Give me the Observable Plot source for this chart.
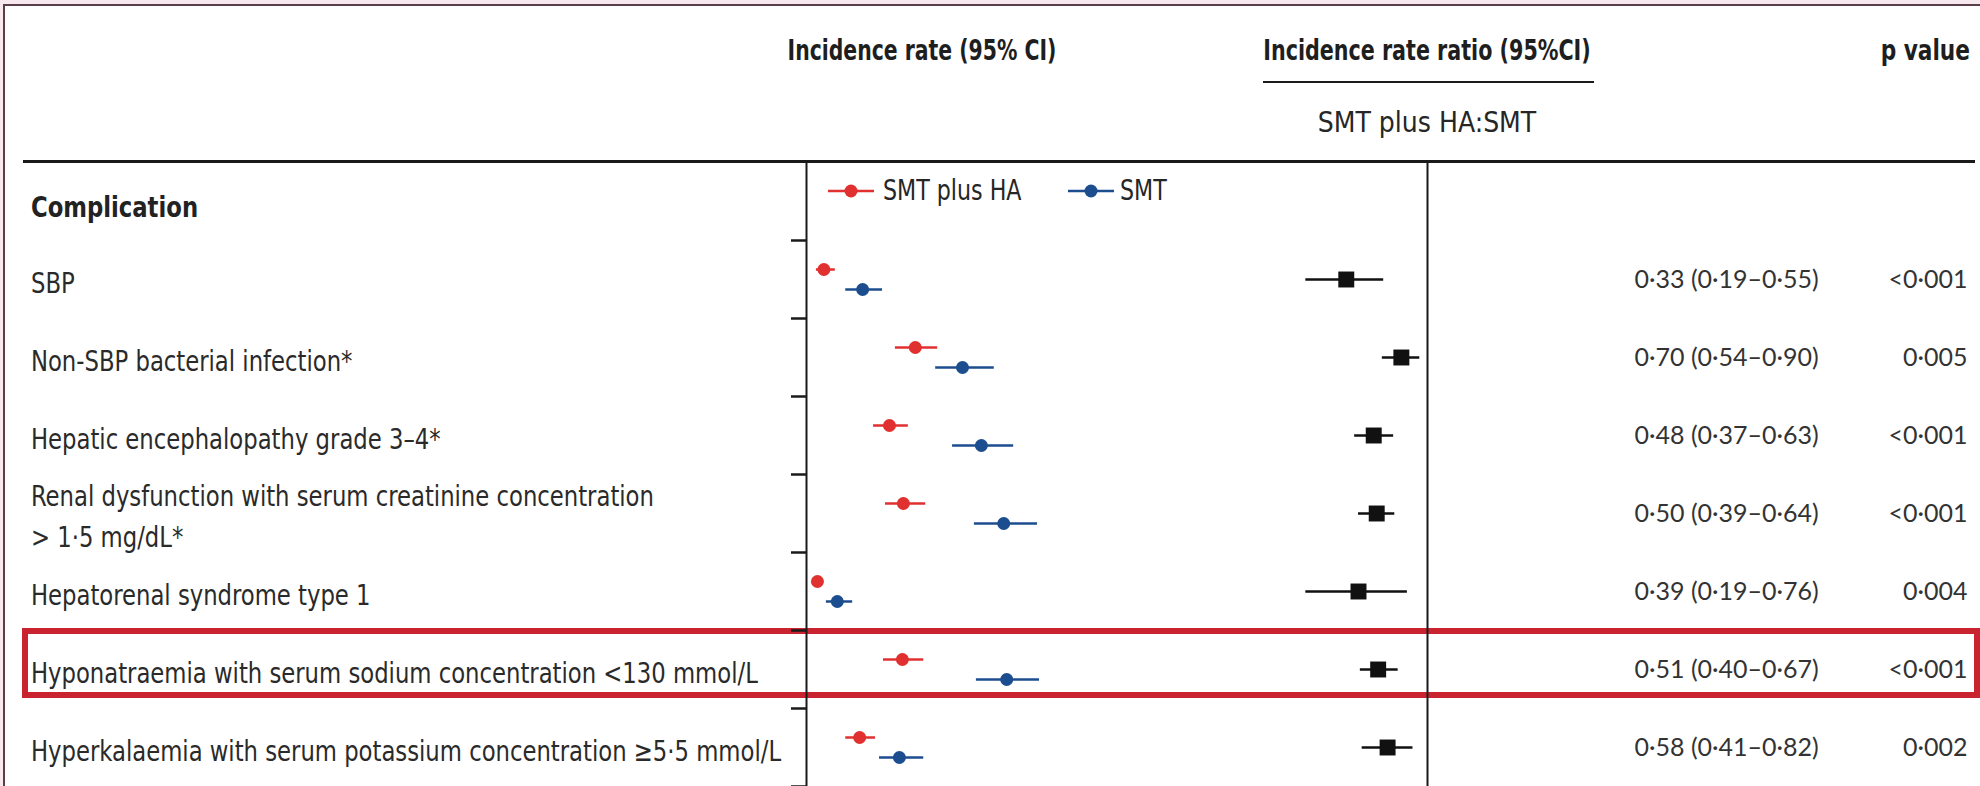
<!DOCTYPE html>
<html>
<head>
<meta charset="utf-8">
<script src="https://cdn.jsdelivr.net/npm/d3@7"></script>
<script src="https://cdn.jsdelivr.net/npm/@observablehq/plot@0.6"></script>
<style>
  html, body { margin: 0; padding: 0; background: #fff; }
  #fig { position: relative; width: 1980px; height: 786px; overflow: hidden; background: #f7e9ee;
         font-family: "DejaVu Sans Condensed", "Liberation Sans Narrow", "DejaVu Sans", sans-serif; color: #262626; }
  #sheet { position: absolute; left: 3px; top: 4px; width: 1990px; height: 800px; background: #fff;
           border-top: 2px solid #5b3d4c; border-left: 2px solid #5b3d4c; }
  .abs { position: absolute; white-space: nowrap; }
  .hdr { font-size: 28px; font-weight: bold; color: #1e1e1e; }
  .plot { position: absolute; top: 162px; }
  .plot svg { overflow: visible; }
</style>
</head>
<body>
<div id="fig"><div id="sheet"></div></div>
<script>
// ---------------- data ----------------
const complications = [
  "SBP",
  "Non-SBP bacterial infection*",
  "Hepatic encephalopathy grade 3–4*",
  "Renal dysfunction with serum creatinine concentration\n> 1·5 mg/dL*",
  "Hepatorenal syndrome type 1",
  "Hyponatraemia with serum sodium concentration <130 mmol/L",
  "Hyperkalaemia with serum potassium concentration ≥5·5 mmol/L"
];
const highlighted = "Hyponatraemia with serum sodium concentration <130 mmol/L";
const seriesNames = ["SMT plus HA", "SMT"];
const seriesColors = ["#e03030", "#1c4d8f"];

// incidence rates (events per patient-year)
const haRate  = [0.035, 0.219, 0.167, 0.195, 0.022, 0.193, 0.107];
const haLow   = [0.020, 0.179, 0.135, 0.159, 0.012, 0.155, 0.079];
const haHigh  = [0.058, 0.264, 0.205, 0.240, 0.034, 0.236, 0.139];
const smtRate = [0.113, 0.314, 0.352, 0.397, 0.062, 0.403, 0.187];
const smtLow  = [0.079, 0.260, 0.294, 0.338, 0.040, 0.342, 0.147];
const smtHigh = [0.153, 0.378, 0.417, 0.465, 0.093, 0.469, 0.236];

// incidence rate ratios
const irr     = [0.33, 0.70, 0.48, 0.50, 0.39, 0.51, 0.58];
const irrLow  = [0.19, 0.54, 0.37, 0.39, 0.19, 0.40, 0.41];
const irrHigh = [0.55, 0.90, 0.63, 0.64, 0.76, 0.67, 0.82];
const irrText = ["0·33 (0·19–0·55)", "0·70 (0·54–0·90)", "0·48 (0·37–0·63)", "0·50 (0·39–0·64)",
                 "0·39 (0·19–0·76)", "0·51 (0·40–0·67)", "0·58 (0·41–0·82)"];
const pText   = ["<0·001", "0·005", "<0·001", "<0·001", "0·004", "<0·001", "0·002"];

const headerLabel = "Complication";
const rateHeader = "Incidence rate (95% CI)";
const ratioHeader = "Incidence rate ratio (95%CI)";
const ratioSub = "SMT plus HA:SMT";
const pHeader = "p value";

// ---------------- derived tables ----------------
const nRows = complications.length + 1;   // header row + complications
const rows = complications.map((label, i) => ({
  label, row: i + 1.5, irr: irr[i], lo: irrLow[i], hi: irrHigh[i], irrText: irrText[i], p: pText[i]
}));
const rates = complications.flatMap((label, i) => [
  {row: i + 1.5, series: seriesNames[0], est: haRate[i], lo: haLow[i], hi: haHigh[i]},
  {row: i + 1.5, series: seriesNames[1], est: smtRate[i], lo: smtLow[i], hi: smtHigh[i]}
]);
const hiIndex = complications.indexOf(highlighted);

const H = 624;
const FONT_NARROW = '"DejaVu Sans Condensed", "Liberation Sans Narrow", "DejaVu Sans", sans-serif';
const FONT_NUM = 'Lato, "Open Sans", sans-serif';
const yScale = {domain: [0, nRows], range: [0, H], axis: null};
const fig = document.getElementById("fig");

function place(node, left, extra) {
  const wrap = document.createElement("div");
  wrap.className = "plot";
  wrap.style.left = left + "px";
  if (extra) Object.assign(wrap.style, extra);
  wrap.appendChild(node);
  fig.appendChild(wrap);
  return wrap;
}
function addText(text, x, y, anchor, cls, extra, sx) {
  const d = document.createElement("div");
  d.className = "abs " + (cls || "");
  d.textContent = text;
  d.style.left = x + "px";
  d.style.top = y + "px";
  const tx = anchor === "middle" ? "-50%" : anchor === "end" ? "-100%" : "0";
  d.style.transformOrigin = anchor === "middle" ? "50% 50%" : anchor === "end" ? "100% 50%" : "0 50%";
  d.style.transform = `translate(${tx}, -50%) scaleX(${sx || 1})`;
  if (extra) Object.assign(d.style, extra);
  fig.appendChild(d);
  return d;
}

// ---------------- header (HTML) ----------------
addText(rateHeader, 922, 50, "middle", "hdr", null, 0.81);
addText(ratioHeader, 1427, 50, "middle", "hdr", null, 0.82);
addText(pHeader, 1970, 50, "end", "hdr", null, 0.86);
addText(ratioSub, 1427, 122, "middle", "", {fontSize: "28px"}, 1);
const ul = document.createElement("div");
ul.className = "abs";
Object.assign(ul.style, {left: "1263px", top: "81px", width: "331px", height: "2px", background: "#1a1a1a"});
fig.appendChild(ul);
const hr = document.createElement("div");
hr.className = "abs";
Object.assign(hr.style, {left: "23px", top: "160px", width: "1952px", height: "3px", background: "#1a1a1a"});
fig.appendChild(hr);

// legend (HTML with small svg swatches)
const legendPos = [{sym: 828, text: 883}, {sym: 1068, text: 1120}];
seriesNames.forEach((name, i) => {
  const s = document.createElementNS("http://www.w3.org/2000/svg", "svg");
  s.setAttribute("width", 46); s.setAttribute("height", 14);
  s.innerHTML = `<line x1="0" x2="46" y1="7" y2="7" stroke="${seriesColors[i]}" stroke-width="2.5"/>` +
                `<circle cx="23" cy="7" r="6.5" fill="${seriesColors[i]}"/>`;
  const w = document.createElement("div");
  w.className = "abs";
  Object.assign(w.style, {left: legendPos[i].sym + "px", top: "184px", lineHeight: 0});
  w.appendChild(s);
  fig.appendChild(w);
  addText(name, legendPos[i].text, 190, "start", "", {fontSize: "28px"}, 0.88);
});

// ---------------- highlight box ----------------
place(Plot.plot({
  width: 1980, height: H, margin: 0, marginLeft: 25, marginRight: 3,
  y: yScale,
  style: {background: "transparent"},
  marks: [
    Plot.rect([hiIndex + 1], {y1: d => d, y2: d => d + 1, fill: "none", stroke: "#c8232f",
      strokeWidth: 6, insetTop: 1, insetBottom: 13})
  ]
}), 0);

// ---------------- row labels (condensed horizontally like the original typeface) ----------------
place(Plot.plot({
  width: 900, height: H, margin: 0, marginLeft: 35,
  y: yScale,
  style: {background: "transparent", fontFamily: FONT_NARROW},
  marks: [
    Plot.text([headerLabel], {y: () => 0.5, text: d => d, frameAnchor: "left", textAnchor: "start",
      fontSize: 29, fontWeight: "bold", fill: "#222", dy: 6}),
    Plot.text(rows, {y: "row", text: "label", frameAnchor: "left", textAnchor: "start",
      fontSize: 29, lineHeight: 1.4, fill: "#2a2a2a"})
  ]
}), 0, {transform: "scaleX(0.872)", transformOrigin: "0 0"});

// ---------------- incidence rate panel ----------------
place(Plot.plot({
  width: 641, height: H, marginTop: 0, marginBottom: 0, marginLeft: 20, marginRight: 0,
  x: {domain: [0, 1.25], axis: null},
  y: yScale,
  color: {domain: seriesNames, range: seriesColors},
  style: {background: "transparent"},
  marks: [
    Plot.axisY({anchor: "left", ticks: d3.range(1, nRows + 1), tickSize: 15, tickFormat: () => "",
      label: null, strokeWidth: 2.5, stroke: "#1a1a1a"}),
    Plot.ruleX([0], {stroke: "#1a1a1a", strokeWidth: 2}),
    Plot.ruleY(rates.filter(d => d.series === seriesNames[0]),
      {y: "row", x1: "lo", x2: "hi", stroke: "series", strokeWidth: 2.5, dy: -10}),
    Plot.ruleY(rates.filter(d => d.series === seriesNames[1]),
      {y: "row", x1: "lo", x2: "hi", stroke: "series", strokeWidth: 2.5, dy: 10}),
    Plot.dot(rates.filter(d => d.series === seriesNames[0]),
      {x: "est", y: "row", fill: "series", r: 6.5, dy: -10}),
    Plot.dot(rates.filter(d => d.series === seriesNames[1]),
      {x: "est", y: "row", fill: "series", r: 6.5, dy: 10})
  ]
}), 786);

// ---------------- incidence rate ratio panel (log scale, 1 = reference line) ----------------
place(Plot.plot({
  width: 141, height: H, marginTop: 0, marginBottom: 0, marginLeft: 0, marginRight: 2,
  x: {type: "log", domain: [0.15, 1], axis: null},
  y: yScale,
  style: {background: "transparent"},
  marks: [
    Plot.ruleX([1], {stroke: "#1a1a1a", strokeWidth: 2}),
    Plot.ruleY(rows, {y: "row", x1: "lo", x2: "hi", stroke: "#111", strokeWidth: 2.5}),
    Plot.dot(rows, {x: "irr", y: "row", symbol: "square", r: 9, fill: "#111"})
  ]
}), 1288);

// ---------------- IRR text and p values ----------------
place(Plot.plot({
  width: 300, height: H, margin: 0,
  y: yScale,
  style: {background: "transparent", fontFamily: FONT_NUM},
  marks: [
    Plot.text(rows, {y: "row", text: "irrText", frameAnchor: "left", textAnchor: "start",
      fontSize: 25, fill: "#333"})
  ]
}), 1634);
place(Plot.plot({
  width: 200, height: H, margin: 0,
  y: yScale,
  style: {background: "transparent", fontFamily: FONT_NUM},
  marks: [
    Plot.text(rows, {y: "row", text: "p", frameAnchor: "right", textAnchor: "end",
      fontSize: 25, fill: "#333"})
  ]
}), 1767);
</script>
</body>
</html>
